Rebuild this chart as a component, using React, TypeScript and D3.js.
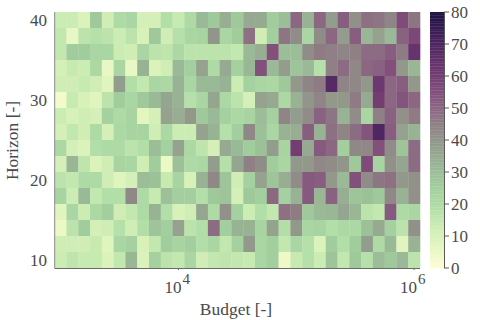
import React from 'react';
import * as d3 from 'd3';

// budget exponents of the columns, 10^3 to 10^6 in steps of 0.1
const budgetExponents = d3.range(31).map(i => (30 + i) / 10);
const horizons = [40, 38, 36, 34, 32, 30, 28, 26, 24, 22, 20, 18, 16, 14, 12, 10];
const xTicks = [4, 6];
const yTicks = [10, 20, 30, 40];
const colorTicks = [0, 10, 20, 30, 40, 50, 60, 70, 80];

const row40 = [13,13,9,27,12,20,22,11,11,19,14,20,31,27,34,27,35,35,26,30,50,33,50,38,52,41,48,47,44,56,47];
const row38 = [15,6,17,18,17,13,17,10,27,12,18,22,23,40,22,26,48,12,25,47,42,22,42,50,38,52,32,37,31,51,57];
const row36 = [15,26,26,22,22,13,12,22,17,16,21,17,17,17,17,15,31,34,55,30,30,42,46,45,44,45,49,49,52,46,64];
const row34 = [11,14,13,21,6,22,6,33,9,12,31,25,37,20,35,24,32,55,31,38,28,31,18,45,49,43,50,51,55,39,32];
const row32 = [12,12,14,12,8,38,19,15,22,21,33,22,31,31,33,13,24,22,21,27,39,44,46,68,44,43,39,62,50,52,39];
const row30 = [3,14,10,8,17,26,22,27,31,36,33,18,22,36,21,17,11,37,35,21,33,40,44,39,39,46,35,60,50,54,50];
const row28 = [13,10,12,11,24,20,23,7,11,37,34,39,27,31,24,21,23,30,24,44,38,42,51,47,33,42,22,45,51,41,46];
const row26 = [11,15,12,20,11,21,23,23,12,21,13,13,37,33,18,25,43,29,22,33,34,52,33,48,44,49,54,70,52,37,33];
const row24 = [21,11,9,19,20,20,17,19,30,24,37,21,16,11,35,31,26,29,38,23,60,35,53,50,25,43,43,55,42,28,49];
const row22 = [11,32,16,9,12,23,22,12,26,5,29,20,21,38,18,36,45,42,26,22,39,39,43,42,40,27,56,23,41,36,49];
const row20 = [17,15,20,20,12,8,11,30,29,14,23,10,33,43,28,12,24,37,28,34,42,53,52,39,31,55,42,47,48,39,41];
const row18 = [23,13,31,15,19,19,43,20,14,29,25,25,19,27,28,11,27,25,50,24,33,53,32,51,34,28,29,27,43,33,41];
const row16 = [8,22,13,21,25,12,15,20,33,19,10,12,36,20,41,24,13,19,15,48,46,27,31,32,36,32,17,15,53,20,22];
const row14 = [5,17,26,11,12,18,12,19,28,25,37,17,19,49,25,33,33,23,37,19,39,22,23,19,21,21,29,35,24,17,41];
const row12 = [12,12,12,14,8,22,24,10,15,26,23,25,19,22,15,24,39,22,25,15,22,18,9,26,19,26,38,20,31,8,33];
const row10 = [13,16,14,14,9,15,32,9,24,17,15,22,12,15,16,15,14,22,25,4,14,18,13,28,15,27,18,30,27,31,17];
const rows = [row40, row38, row36, row34, row32, row30, row28, row26, row24, row22, row20, row18, row16, row14, row12, row10];

const colorDomain = [0, 5, 10, 15, 20, 25, 30, 35, 40, 45, 50, 55, 60, 65, 70, 75, 80];
const colorRange = ['#fdfdd5', '#ecf8c5', '#d8f1b9', '#c3e8af', '#aedba5', '#a2cf9d', '#9bbe98', '#96aa91', '#91958a', '#8f8085', '#8b6782', '#82507b', '#743d72', '#62306a', '#4e2660', '#371b52', '#1c1040'];

const TEXT = '#4a4a4a';
const FONT = '"Liberation Serif", serif';

const App = () => {
  const margin = { top: 12, left: 54.7, bottom: 268, right: 420 };
  const x = d3.scaleBand<number>().domain(budgetExponents).range([margin.left, margin.right]);
  const y = d3.scaleBand<number>().domain(horizons).range([margin.top, margin.bottom]);
  const color = d3.scaleLinear<string>().domain(colorDomain).range(colorRange).clamp(true);
  const cbar = d3.scaleLinear().domain([0, 80]).range([margin.bottom, margin.top]);
  const cbarSteps = d3.range(0, 80, 0.5);

  return (
    <svg width={480} height={320} style={{ position: 'fixed', left: 0, top: 0, background: '#fff' }} fontFamily={FONT}>
      {rows.map((row, r) =>
        row.map((v, c) => (
          <rect
            key={`${r}-${c}`}
            x={x(budgetExponents[c])}
            y={y(horizons[r])}
            width={x.bandwidth() + 0.3}
            height={y.bandwidth() + 0.3}
            fill={color(v)}
          />
        ))
      )}

      {/* axes */}
      <line x1={margin.left} x2={margin.left} y1={margin.top} y2={margin.bottom} stroke="#8a8a8a" />
      <line x1={margin.left} x2={margin.right} y1={margin.bottom + 0.5} y2={margin.bottom + 0.5} stroke="#6a6a6a" />
      {xTicks.map(t => {
        const px = (x(t) as number) + x.bandwidth() / 2;
        return (
          <g key={t} fill={TEXT}>
            <line x1={px} x2={px} y1={margin.bottom} y2={margin.bottom + 2} stroke="#6a6a6a" />
            <text x={px + 3} y={293} fontSize={17} textAnchor="end">10</text>
            <text x={px + 4} y={283.5} fontSize={15}>{t}</text>
          </g>
        );
      })}
      {yTicks.map(t => (
        <text key={t} x={47} y={(y(t) as number) + y.bandwidth() / 2 + 5.5} fontSize={17} fill={TEXT} textAnchor="end">
          {t}
        </text>
      ))}
      <text x={236} y={315} fontSize={17.5} fill={TEXT} textAnchor="middle">Budget [-]</text>
      <text transform="translate(17.5,140.5) rotate(-90)" fontSize={17.5} fill={TEXT} textAnchor="middle">Horizon [-]</text>

      {/* colorbar */}
      {cbarSteps.map(v => (
        <rect key={v} x={430} y={cbar(v + 0.5)} width={14} height={cbar(v) - cbar(v + 0.5) + 0.3} fill={color(v + 0.25)} />
      ))}
      <line x1={444.5} x2={444.5} y1={margin.top} y2={margin.bottom} stroke="#5a5a5a" />
      {colorTicks.map(t => (
        <g key={t}>
          <line x1={444} x2={449} y1={cbar(t)} y2={cbar(t)} stroke="#5a5a5a" />
          <text x={451} y={cbar(t) + 5.5} fontSize={17} fill={TEXT}>{t}</text>
        </g>
      ))}
    </svg>
  );
};

export default App;
